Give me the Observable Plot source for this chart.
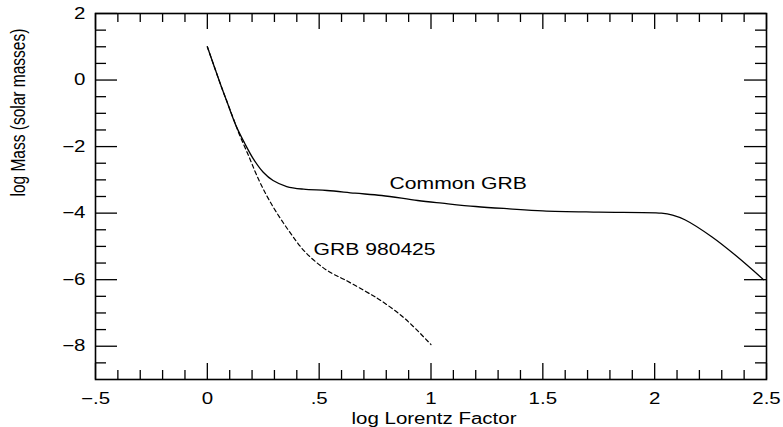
<!DOCTYPE html>
<html>
<head>
<meta charset="utf-8">
<script src="https://cdn.jsdelivr.net/npm/d3@7"></script>
<script src="https://cdn.jsdelivr.net/npm/@observablehq/plot@0.6"></script>
<style>
  html, body { margin: 0; padding: 0; background: #fff; }
  #chart svg { display: block; }
</style>
</head>
<body>
<div id="chart"></div>
<script>
// ---- data ----
const commonX = [0, 0.06, 0.085, 0.13, 0.167, 0.205, 0.25, 0.294, 0.355, 0.43, 0.535, 0.66, 0.78, 0.94, 1.05, 1.2, 1.35, 1.5, 1.75, 2.03, 2.08, 2.135, 2.255, 2.36, 2.487];
const commonY = [1.0, -0.15, -0.6, -1.4, -1.9, -2.36, -2.77, -3.02, -3.2, -3.28, -3.32, -3.4, -3.47, -3.62, -3.7, -3.8, -3.87, -3.93, -3.97, -4.0, -4.06, -4.2, -4.71, -5.26, -6.0];
const grbX = [0, 0.06, 0.085, 0.13, 0.141, 0.186, 0.23, 0.286, 0.361, 0.435, 0.51, 0.56, 0.614, 0.733, 0.77, 0.88, 1.0];
const grbY = [1.0, -0.15, -0.6, -1.4, -1.6, -2.3, -3.0, -3.72, -4.5, -5.15, -5.6, -5.82, -6.0, -6.45, -6.6, -7.15, -7.95];

const seriesLabels = ["Common GRB", "GRB 980425"];
const labelX = [0.815, 0.475];
const labelY = [-3.13, -5.09];

const xMajor = [-0.5, 0, 0.5, 1, 1.5, 2, 2.5];
const xTickLabels = ["\u2212.5", "0", ".5", "1", "1.5", "2", "2.5"];
const xMinor = [-0.4, -0.3, -0.2, -0.1, 0.1, 0.2, 0.3, 0.4, 0.6, 0.7, 0.8, 0.9, 1.1, 1.2, 1.3, 1.4, 1.6, 1.7, 1.8, 1.9, 2.1, 2.2, 2.3, 2.4];
const yMajor = [-8, -6, -4, -2, 0, 2];
const yTickLabels = ["\u22128", "\u22126", "\u22124", "\u22122", "0", "2"];
const yMinor = [-8.5, -7.5, -7, -6.5, -5.5, -5, -4.5, -3.5, -3, -2.5, -1.5, -1, -0.5, 0.5, 1, 1.5];

const xTitle = "log Lorentz Factor";
const yTitle = "log Mass (solar masses)";

// ---- layout ----
const W = 783, H = 427;
const mL = 95, mR = 17, mT = 13, mB = 48;
const xDom = [-0.5, 2.5], yDom = [-9, 2];
const pxX = (xDom[1] - xDom[0]) / (W - mL - mR); // data units per px
const pxY = (yDom[1] - yDom[0]) / (H - mT - mB);

const commonData = commonX.map((x, i) => ({x, y: commonY[i]}));
const grbData = grbX.map((x, i) => ({x, y: grbY[i]}));
const labelData = seriesLabels.map((t, i) => ({t, x: labelX[i], y: labelY[i]}));
const xLab = xMajor.map((v, i) => ({v, t: xTickLabels[i]}));
const yLab = yMajor.map((v, i) => ({v, t: yTickLabels[i]}));

const xMajLen = 16, xMinLen = 9, yMajLen = 22, yMinLen = 11;
const font = "Liberation Sans, Arial, Helvetica, sans-serif";

const plot = Plot.plot({
  width: W, height: H,
  marginLeft: mL, marginRight: mR, marginTop: mT, marginBottom: mB,
  x: {domain: xDom, axis: null},
  y: {domain: yDom, axis: null},
  style: {fontFamily: font, background: "#fff", color: "#000"},
  marks: [
    // bottom & top ticks
    Plot.ruleX(xMajor, {x: d => d, y1: yDom[0], y2: yDom[0] + xMajLen * pxY, stroke: "#000", strokeWidth: 1.3}),
    Plot.ruleX(xMinor, {x: d => d, y1: yDom[0], y2: yDom[0] + xMinLen * pxY, stroke: "#000", strokeWidth: 1.3}),
    Plot.ruleX(xMajor, {x: d => d, y1: yDom[1], y2: yDom[1] - xMajLen * pxY, stroke: "#000", strokeWidth: 1.3}),
    Plot.ruleX(xMinor, {x: d => d, y1: yDom[1], y2: yDom[1] - xMinLen * pxY, stroke: "#000", strokeWidth: 1.3}),
    // left & right ticks
    Plot.ruleY(yMajor, {y: d => d, x1: xDom[0], x2: xDom[0] + yMajLen * pxX, stroke: "#000", strokeWidth: 1.3}),
    Plot.ruleY(yMinor, {y: d => d, x1: xDom[0], x2: xDom[0] + yMinLen * pxX, stroke: "#000", strokeWidth: 1.3}),
    Plot.ruleY(yMajor, {y: d => d, x1: xDom[1], x2: xDom[1] - yMajLen * pxX, stroke: "#000", strokeWidth: 1.3}),
    Plot.ruleY(yMinor, {y: d => d, x1: xDom[1], x2: xDom[1] - yMinLen * pxX, stroke: "#000", strokeWidth: 1.3}),
    Plot.frame({stroke: "#000", strokeWidth: 1.6}),
    // curves
    Plot.line(grbData, {x: "x", y: "y", curve: "catmull-rom", stroke: "#000", strokeWidth: 1.2, strokeDasharray: "4,3"}),
    Plot.line(commonData, {x: "x", y: "y", curve: "catmull-rom", stroke: "#000", strokeWidth: 1.3}),
    // series labels
    Plot.text(labelData, {x: "x", y: "y", text: "t", textAnchor: "start", fontSize: 16.5, fill: "#000"}),
    // tick labels
    Plot.text(xLab, {x: "v", y: yDom[0], dy: 19, text: "t", fontSize: 16, fill: "#000"}),
    Plot.text(yLab, {x: xDom[0], y: "v", dx: -10, text: "t", textAnchor: "end", fontSize: 16, fill: "#000"}),
    // axis titles
    Plot.text([xTitle], {frameAnchor: "bottom", dx: 3, dy: 44, text: d => d, fontSize: 16, fill: "#000"}),
    Plot.text([yTitle], {frameAnchor: "left", dx: -77, rotate: -90, text: d => d, fontSize: 15.5, fill: "#000"})
  ]
});

// widen glyphs horizontally, as in the reference picture
plot.querySelectorAll("text").forEach(t => {
  let tr = t.getAttribute("transform");
  const rotated = tr && /rotate\(/.test(tr);
  const sc = rotated ? " scale(1,1.25)" : " scale(1.28,1)";
  if (tr) {
    t.setAttribute("transform", tr + sc);
  } else {
    const x = +(t.getAttribute("x") || 0), y = +(t.getAttribute("y") || 0);
    t.removeAttribute("x"); t.removeAttribute("y");
    t.setAttribute("transform", `translate(${x},${y})` + sc);
  }
});

document.getElementById("chart").appendChild(plot);
</script>
</body>
</html>
